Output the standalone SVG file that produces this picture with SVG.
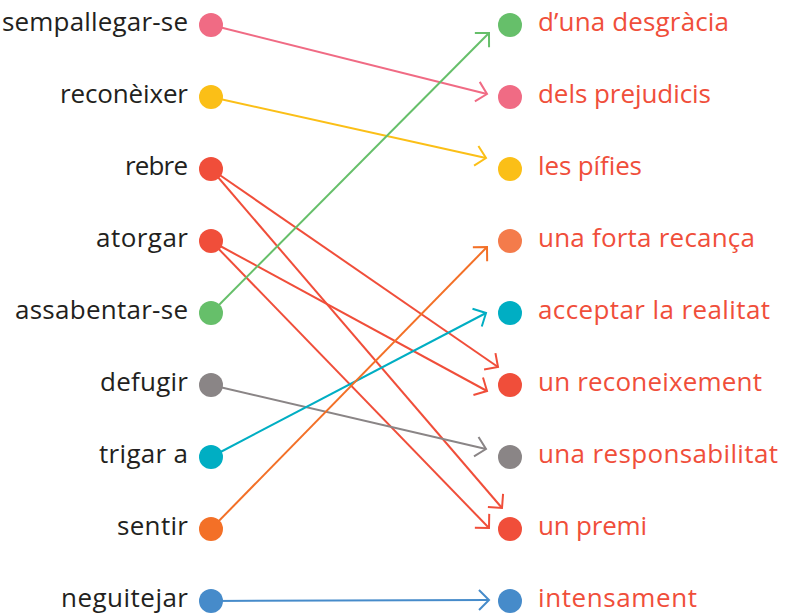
<svg xmlns="http://www.w3.org/2000/svg" width="795" height="615" viewBox="0 0 795 615">
<style>
.l{font-family:"Open Sans","Noto Sans","Liberation Sans",sans-serif;font-size:26px;fill:#231f20;text-anchor:end}
.r{font-family:"Open Sans","Noto Sans","Liberation Sans",sans-serif;font-size:26px;fill:#f04e3a;font-weight:400}
.c{fill:none;stroke-width:2}
</style>
<defs>
<marker id="m-pink" markerUnits="userSpaceOnUse" orient="auto" markerWidth="30" markerHeight="30" refX="0" refY="0" viewBox="-15 -15 30 30" overflow="visible"><path d="M-10,-10 L0,0 L-10,10" fill="none" stroke="#f06b84" stroke-width="2"/></marker>
<marker id="m-yellow" markerUnits="userSpaceOnUse" orient="auto" markerWidth="30" markerHeight="30" refX="0" refY="0" viewBox="-15 -15 30 30" overflow="visible"><path d="M-10,-10 L0,0 L-10,10" fill="none" stroke="#fbbf17" stroke-width="2"/></marker>
<marker id="m-red" markerUnits="userSpaceOnUse" orient="auto" markerWidth="30" markerHeight="30" refX="0" refY="0" viewBox="-15 -15 30 30" overflow="visible"><path d="M-10,-10 L0,0 L-10,10" fill="none" stroke="#f04e3a" stroke-width="2"/></marker>
<marker id="m-green" markerUnits="userSpaceOnUse" orient="auto" markerWidth="30" markerHeight="30" refX="0" refY="0" viewBox="-15 -15 30 30" overflow="visible"><path d="M-10,-10 L0,0 L-10,10" fill="none" stroke="#66bf6a" stroke-width="2"/></marker>
<marker id="m-gray" markerUnits="userSpaceOnUse" orient="auto" markerWidth="30" markerHeight="30" refX="0" refY="0" viewBox="-15 -15 30 30" overflow="visible"><path d="M-10,-10 L0,0 L-10,10" fill="none" stroke="#8a8586" stroke-width="2"/></marker>
<marker id="m-cyan" markerUnits="userSpaceOnUse" orient="auto" markerWidth="30" markerHeight="30" refX="0" refY="0" viewBox="-15 -15 30 30" overflow="visible"><path d="M-10,-10 L0,0 L-10,10" fill="none" stroke="#00aec3" stroke-width="2"/></marker>
<marker id="m-orange" markerUnits="userSpaceOnUse" orient="auto" markerWidth="30" markerHeight="30" refX="0" refY="0" viewBox="-15 -15 30 30" overflow="visible"><path d="M-10,-10 L0,0 L-10,10" fill="none" stroke="#f37027" stroke-width="2"/></marker>
<marker id="m-blue" markerUnits="userSpaceOnUse" orient="auto" markerWidth="30" markerHeight="30" refX="0" refY="0" viewBox="-15 -15 30 30" overflow="visible"><path d="M-10,-10 L0,0 L-10,10" fill="none" stroke="#468bca" stroke-width="2"/></marker>
</defs>
<g id="connectors">
<line class="c" x1="211" y1="25" x2="487" y2="94" stroke="#f06b84" marker-end="url(#m-pink)"/>
<line class="c" x1="211" y1="97" x2="486" y2="158" stroke="#fbbf17" marker-end="url(#m-yellow)"/>
<line class="c" x1="211" y1="169" x2="498" y2="367" stroke="#f04e3a" marker-end="url(#m-red)"/>
<line class="c" x1="211" y1="169" x2="502" y2="508" stroke="#f04e3a" marker-end="url(#m-red)"/>
<line class="c" x1="211" y1="241" x2="487" y2="391" stroke="#f04e3a" marker-end="url(#m-red)"/>
<line class="c" x1="211" y1="241" x2="489" y2="528" stroke="#f04e3a" marker-end="url(#m-red)"/>
<line class="c" x1="211" y1="313" x2="489" y2="33" stroke="#66bf6a" marker-end="url(#m-green)"/>
<line class="c" x1="211" y1="385" x2="486" y2="449" stroke="#8a8586" marker-end="url(#m-gray)"/>
<line class="c" x1="211" y1="457" x2="486" y2="313" stroke="#00aec3" marker-end="url(#m-cyan)"/>
<line class="c" x1="211" y1="529" x2="487" y2="247" stroke="#f37027" marker-end="url(#m-orange)"/>
<line class="c" x1="211" y1="601" x2="489" y2="600" stroke="#468bca" marker-end="url(#m-blue)"/>
</g>
<g id="l0"><circle cx="211" cy="25" r="12" fill="#f06b84"/><text class="l" x="188" y="31" textLength="186">sempallegar-se</text></g>
<g id="l1"><circle cx="211" cy="97" r="12" fill="#fbbf17"/><text class="l" x="188" y="103" textLength="128">reconèixer</text></g>
<g id="l2"><circle cx="211" cy="169" r="12" fill="#f04e3a"/><text class="l" x="188" y="175" textLength="63">rebre</text></g>
<g id="l3"><circle cx="211" cy="241" r="12" fill="#f04e3a"/><text class="l" x="188" y="247" textLength="92">atorgar</text></g>
<g id="l4"><circle cx="211" cy="313" r="12" fill="#66bf6a"/><text class="l" x="188" y="319" textLength="173">assabentar-se</text></g>
<g id="l5"><circle cx="211" cy="385" r="12" fill="#8a8586"/><text class="l" x="188" y="391" textLength="88">defugir</text></g>
<g id="l6"><circle cx="211" cy="457" r="12" fill="#00aec3"/><text class="l" x="188" y="463" textLength="89">trigar a</text></g>
<g id="l7"><circle cx="211" cy="529" r="12" fill="#f37027"/><text class="l" x="188" y="535" textLength="71">sentir</text></g>
<g id="l8"><circle cx="211" cy="601" r="12" fill="#468bca"/><text class="l" x="188" y="607" textLength="127">neguitejar</text></g>
<g id="r0"><circle cx="510" cy="25" r="12" fill="#66bf6a"/><text class="r" x="538" y="31" textLength="191">d’una desgràcia</text></g>
<g id="r1"><circle cx="510" cy="97" r="12" fill="#f06b84"/><text class="r" x="538" y="103" textLength="173">dels prejudicis</text></g>
<g id="r2"><circle cx="510" cy="169" r="12" fill="#fbbf17"/><text class="r" x="538" y="175" textLength="104">les pífies</text></g>
<g id="r3"><circle cx="510" cy="241" r="12" fill="#f47b4b"/><text class="r" x="538" y="247" textLength="217">una forta recança</text></g>
<g id="r4"><circle cx="510" cy="313" r="12" fill="#00aec3"/><text class="r" x="538" y="319" textLength="232">acceptar la realitat</text></g>
<g id="r5"><circle cx="510" cy="385" r="12" fill="#f04e3a"/><text class="r" x="538" y="391" textLength="224">un reconeixement</text></g>
<g id="r6"><circle cx="510" cy="457" r="12" fill="#8a8586"/><text class="r" x="538" y="463" textLength="240">una responsabilitat</text></g>
<g id="r7"><circle cx="510" cy="529" r="12" fill="#f04e3a"/><text class="r" x="538" y="535" textLength="109">un premi</text></g>
<g id="r8"><circle cx="510" cy="601" r="12" fill="#468bca"/><text class="r" x="538" y="607" textLength="159">intensament</text></g>
</svg>
